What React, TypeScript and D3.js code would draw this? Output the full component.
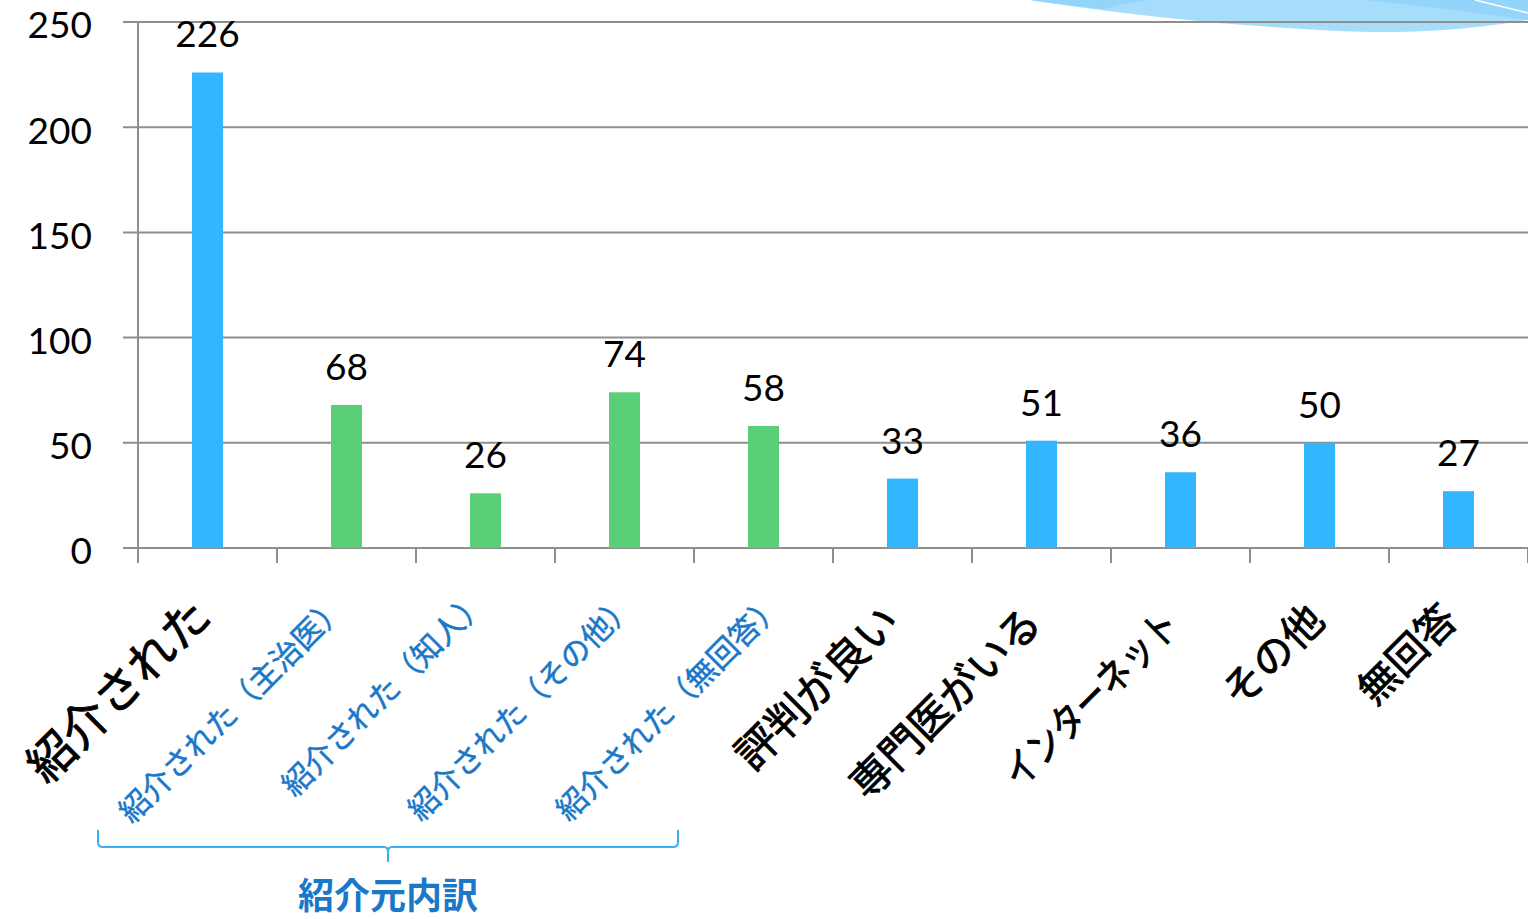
import React from "react";
import * as d3 from "d3";

const categories = [
  "紹介された",
  "紹介された（主治医）",
  "紹介された（知人）",
  "紹介された（その他）",
  "紹介された（無回答）",
  "評判が良い",
  "専門医がいる",
  "インターネット",
  "その他",
  "無回答",
];
const values = [226, 68, 26, 74, 58, 33, 51, 36, 50, 27];
const groups = ["main", "sub", "sub", "sub", "sub", "main", "main", "main", "main", "main"];
const yTicks = [0, 50, 100, 150, 200, 250];
const bracketLabel = "紹介元内訳";

// layout constants (not data)
const W = 1528;
const H = 919;
const LEFT = 138;
const RIGHT = 1528;
const TOP = 22;
const BOTTOM = 548;
const labelFont = [47, 30.5, 30.5, 30.5, 30.5, 42, 41.5, 40, 41, 40];
const labelRightOffset = [10, 4, 6, 15, 24, 3, 6, 5, 11, 5];
const labelTop = [590, 590, 585, 588, 588, 598, 600, 603, 597, 597];
const labelLen: (number | null)[] = [null, null, null, null, null, null, null, 229, null, null];
const BRACKET_L = 98;
const BRACKET_R = 678;

const BLUE = "#33B5FF";
const GREEN = "#5BCF78";
const AXIS = "#8E8E8E";
const SUBTEXT = "#1A78C8";
const NUM_FONT = "Lato, 'Open Sans', sans-serif";
const JP_FONT = "'Noto Sans CJK JP', 'Noto Sans', sans-serif";

export default function App() {
  const x = d3.scaleBand<string>().domain(categories).range([LEFT, RIGHT]).padding(0);
  const y = d3.scaleLinear().domain([0, 250]).range([BOTTOM, TOP]);
  const bw = x.bandwidth() * 0.223;
  const edges = d3.range(categories.length + 1).map((i) => LEFT + i * x.step());

  const b0 = BRACKET_L;
  const b1 = BRACKET_R;
  const bm = (b0 + b1) / 2;

  return (
    <svg width={W} height={H} style={{ position: "absolute", left: 0, top: 0, background: "#fff" }}>
      {/* decoration top-right */}
      <path d="M1030,0 C1120,14 1240,28 1370,32 C1440,33 1490,26 1528,20 L1528,0 Z" fill="#A6DDFB" />
      <path d="M1030,0 C1060,4 1085,7 1103,9 C1118,5 1135,2 1150,0 Z" fill="#93D5FA" />
      <path d="M1365,0 C1420,6 1480,13 1528,20 L1528,0 Z" fill="#93D5FA" />
      <path d="M1475,0 L1528,13" stroke="#fff" strokeWidth={1.5} />

      {/* gridlines */}
      {yTicks.map((t) => (
        <line key={t} x1={LEFT - 15} x2={RIGHT} y1={y(t)} y2={y(t)} stroke={AXIS} strokeWidth={2} />
      ))}
      {/* y axis */}
      <line x1={LEFT} x2={LEFT} y1={TOP} y2={BOTTOM + 15} stroke={AXIS} strokeWidth={2} />
      {edges.map((e, i) => (
        <line key={i} x1={e} x2={e} y1={BOTTOM} y2={BOTTOM + 15} stroke={AXIS} strokeWidth={2} />
      ))}
      {yTicks.map((t) => (
        <text key={t} x={92} y={y(t) + 3} dy="0.36em" textAnchor="end" fontFamily={NUM_FONT} fontSize={37} fill="#000">
          {t}
        </text>
      ))}

      {/* bars */}
      {categories.map((c, i) => {
        const cx = x(c)! + x.bandwidth() / 2;
        return (
          <g key={c}>
            <rect x={cx - bw / 2} y={y(values[i])} width={bw} height={y(0) - y(values[i])} fill={groups[i] === "sub" ? GREEN : BLUE} />
            <text x={cx} y={y(values[i]) - 25} textAnchor="middle" fontFamily={NUM_FONT} fontSize={37} fill="#000">
              {values[i]}
            </text>
          </g>
        );
      })}

      {/* category labels */}
      {categories.map((c, i) => {
        const cx = x(c)! + x.bandwidth() / 2;
        const f = labelFont[i];
        const px = cx + labelRightOffset[i] - 0.09 * f;
        const py = labelTop[i] + 0.62 * f;
        const extra: any = {};
        if (labelLen[i]) {
          extra.textLength = labelLen[i];
          extra.lengthAdjust = "spacingAndGlyphs";
        }
        const col = groups[i] === "sub" ? SUBTEXT : "#000";
        return (
          <text
            key={c}
            transform={`translate(${px},${py}) rotate(-45)`}
            textAnchor="end"
            fontFamily={JP_FONT}
            fontWeight={400}
            fontSize={f}
            fill={col}
            stroke={col}
            strokeWidth={groups[i] === "sub" ? 0.5 : 0.9}
            {...extra}
          >
            {c}
          </text>
        );
      })}

      {/* bracket */}
      <path
        d={`M${b0},830 L${b0},842 Q${b0},847 ${b0 + 5},847 L${bm - 4},847 Q${bm},847 ${bm},852 L${bm},862 M${bm},852 Q${bm},847 ${bm + 4},847 L${b1 - 5},847 Q${b1},847 ${b1},842 L${b1},830`}
        fill="none"
        stroke="#3BB0F0"
        strokeWidth={2}
      />
      <text x={bm} y={909} textAnchor="middle" fontFamily={JP_FONT} fontWeight="bold" fontSize={36} fill={SUBTEXT}>
        {bracketLabel}
      </text>
    </svg>
  );
}
